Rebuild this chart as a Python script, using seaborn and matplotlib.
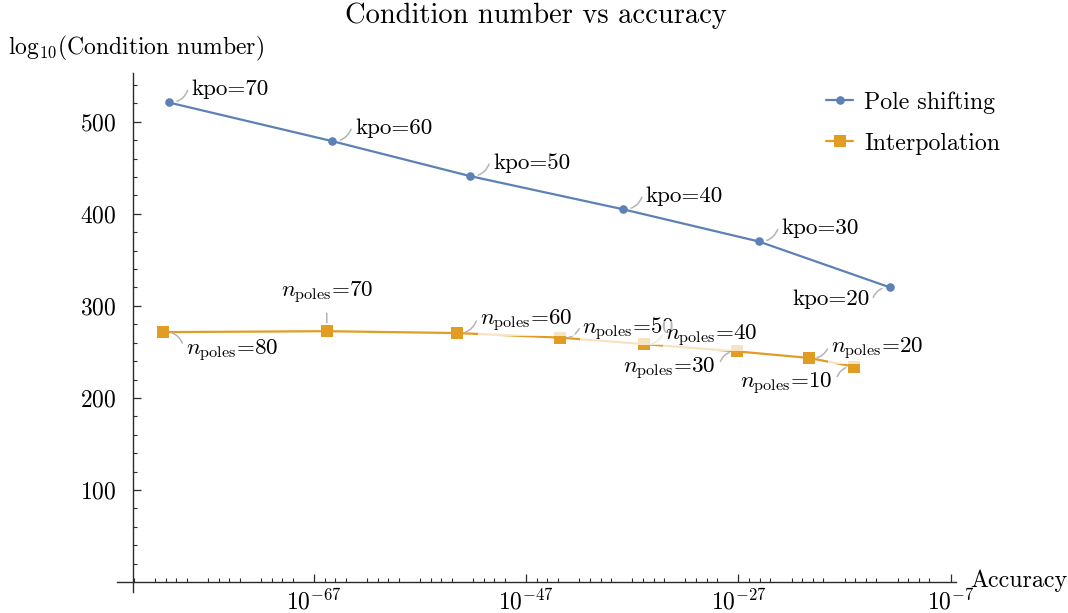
import numpy as np
import matplotlib
matplotlib.use("Agg")
import matplotlib.pyplot as plt
import matplotlib.ticker as mticker
from matplotlib.lines import Line2D
import seaborn as sns

# ---------------- data ----------------
pole_log_acc = [-80.7, -65.3, -52.3, -37.9, -25.1, -12.7]
pole_cond = [521, 479, 441, 405, 370, 320]
pole_labels = ["kpo=70", "kpo=60", "kpo=50", "kpo=40", "kpo=30", "kpo=20"]

interp_log_acc = [-81.2, -65.8, -53.5, -43.8, -35.9, -27.1, -20.4, -16.1]
interp_cond = [271.5, 272.5, 270.5, 265.5, 258.5, 250.5, 243.5, 234]
interp_labels = [r"$n_{\rm poles}$=80", r"$n_{\rm poles}$=70", r"$n_{\rm poles}$=60",
                 r"$n_{\rm poles}$=50", r"$n_{\rm poles}$=40", r"$n_{\rm poles}$=30",
                 r"$n_{\rm poles}$=20", r"$n_{\rm poles}$=10"]

x_major_exp = [-67, -47, -27, -7]
x_major_labels = [r"$10^{-67}$", r"$10^{-47}$", r"$10^{-27}$", r"$10^{-7}$"]
y_major = [100, 200, 300, 400, 500]

series_names = ["Pole shifting", "Interpolation"]
title = "Condition number vs accuracy"
ylabel = r"$\mathrm{log}_{10}$(Condition number)"
xlabel = "Accuracy"

# ---------------- style ----------------
sns.set_theme(style="white")
plt.rcParams["font.family"] = ["cmr10"]
plt.rcParams["mathtext.fontset"] = "cm"
plt.rcParams["axes.formatter.use_mathtext"] = True
plt.rcParams["axes.unicode_minus"] = False
plt.rcParams["text.color"] = "black"
plt.rcParams["xtick.color"] = "black"
plt.rcParams["ytick.color"] = "black"

BLUE = "#5E81B5"
ORANGE = "#E19C24"
AXC = "#2b2b2b"
LEAD = "#B4B4B4"
W, H = 1068, 613
LW = 1.6
MS_C, MS_S = 6.2, 8.0

fig = plt.figure(figsize=(W / 100, H / 100), dpi=100)
fig.patch.set_facecolor("white")
ax_l, ax_r, ax_t, ax_b = 116.7, 956.0, 73.0, 591.7
ax = fig.add_axes([ax_l / W, 1 - ax_b / H, (ax_r - ax_l) / W, (ax_b - ax_t) / H])
ax.set_facecolor("none")
ax.set_xscale("log")
ax.set_xlim(10.0 ** -85.6, 10.0 ** -6.5)
ax.set_ylim(-10.5, 553)

pole_x = [10.0 ** e for e in pole_log_acc]
interp_x = [10.0 ** e for e in interp_log_acc]

sns.lineplot(x=pole_x, y=pole_cond, ax=ax, color=BLUE, marker="o", markersize=MS_C,
             markeredgewidth=0, linewidth=LW, sort=False, zorder=2)
sns.lineplot(x=interp_x, y=interp_cond, ax=ax, color=ORANGE, marker="s", markersize=MS_S,
             markeredgewidth=0, linewidth=LW, sort=False, zorder=2)

# spines as Mathematica-style axes
for s in ["top", "right"]:
    ax.spines[s].set_visible(False)
ax.spines["left"].set_position(("data", 10.0 ** -84.07))
ax.spines["bottom"].set_position(("data", 0))
for s in ["left", "bottom"]:
    ax.spines[s].set_color(AXC)
    ax.spines[s].set_linewidth(1.0)

ax.xaxis.set_major_locator(mticker.FixedLocator([10.0 ** e for e in x_major_exp]))
ax.xaxis.set_major_formatter(mticker.FixedFormatter(x_major_labels))
minor_x = [10.0 ** d for d in range(-84, -6) if d % 5 != 2 and d not in x_major_exp]
ax.xaxis.set_minor_locator(mticker.FixedLocator(minor_x))
ax.xaxis.set_minor_formatter(mticker.NullFormatter())
ax.yaxis.set_major_locator(mticker.FixedLocator(y_major))
ax.yaxis.set_minor_locator(mticker.FixedLocator([v for v in range(20, 541, 20) if v % 100]))
ax.tick_params(axis="both", which="both", bottom=True, left=True, top=False, right=False)
ax.tick_params(axis="both", which="major", direction="in", length=6, width=0.9,
               color=AXC, labelsize=17, labelcolor="black")
ax.tick_params(axis="both", which="minor", direction="in", length=2.8, width=0.8, color=AXC)
ax.tick_params(axis="y", which="major", pad=12)
ax.tick_params(axis="x", which="major", pad=5)
ax.grid(False)

# ---------------- callouts ----------------
FS = 16.6
box = dict(facecolor="white", alpha=0.72, edgecolor="none", pad=1.5)


def callout(x, y, text, dx, dy, ha, lead_start, lead_end, rad):
    ax.annotate(text, xy=(x, y), xytext=(dx, dy), textcoords="offset pixels",
                ha=ha, va="baseline", fontsize=FS, bbox=box, zorder=4)
    ax.annotate("", xy=(x, y), xycoords="data",
                xytext=lead_end, textcoords="offset pixels",
                arrowprops=dict(arrowstyle="-", color=LEAD, lw=1.1,
                                shrinkA=0, shrinkB=lead_start,
                                connectionstyle=f"arc3,rad={rad}"),
                zorder=3)


for i, (x, y, t) in enumerate(zip(pole_x, pole_cond, pole_labels)):
    if i < len(pole_x) - 1:
        callout(x, y, t, 23, 7, "left", 6, (19, 12), -0.35)
    else:
        callout(x, y, t, -21, -18, "right", 6, (-17, -10), -0.35)

interp_place = [
    (23, -23, "left", (19, -11), 0.35),
    (0, 34, "center", (0, 18), 0.0),
    (23, 8, "left", (19, 12), -0.35),
    (22, 4, "left", (19, 9), -0.35),
    (21, 4, "left", (18, 9), -0.35),
    (-22, -22, "right", (-17, -10), -0.35),
    (22, 5, "left", (19, 9), -0.35),
    (-22, -21, "right", (-17, -10), -0.35),
]
for (x, y, t), (dx, dy, ha, le, rad) in zip(zip(interp_x, interp_cond, interp_labels), interp_place):
    callout(x, y, t, dx, dy, ha, 6, le, rad)

# ---------------- legend ----------------
handles = [Line2D([], [], color=BLUE, marker="o", markersize=MS_C, markeredgewidth=0, lw=LW),
           Line2D([], [], color=ORANGE, marker="s", markersize=MS_S, markeredgewidth=0, lw=LW)]
ax.legend(handles, series_names, loc="upper left",
          bbox_to_anchor=(826 / W, 1 - 91 / H), bbox_transform=fig.transFigure,
          frameon=False, fontsize=17.2, handlelength=1.15, handletextpad=0.45,
          labelspacing=0.8, borderpad=0, borderaxespad=0)

# ---------------- texts ----------------
fig.text(536 / W, 1 - 16 / H, title, ha="center", va="center", fontsize=20.5)
fig.text(8 / W, 1 - 48 / H, ylabel, ha="left", va="center", fontsize=17)
fig.text(970 / W, 1 - 581 / H, xlabel, ha="left", va="center", fontsize=17.3)

fig.savefig("out.png", dpi=100, facecolor="white")
